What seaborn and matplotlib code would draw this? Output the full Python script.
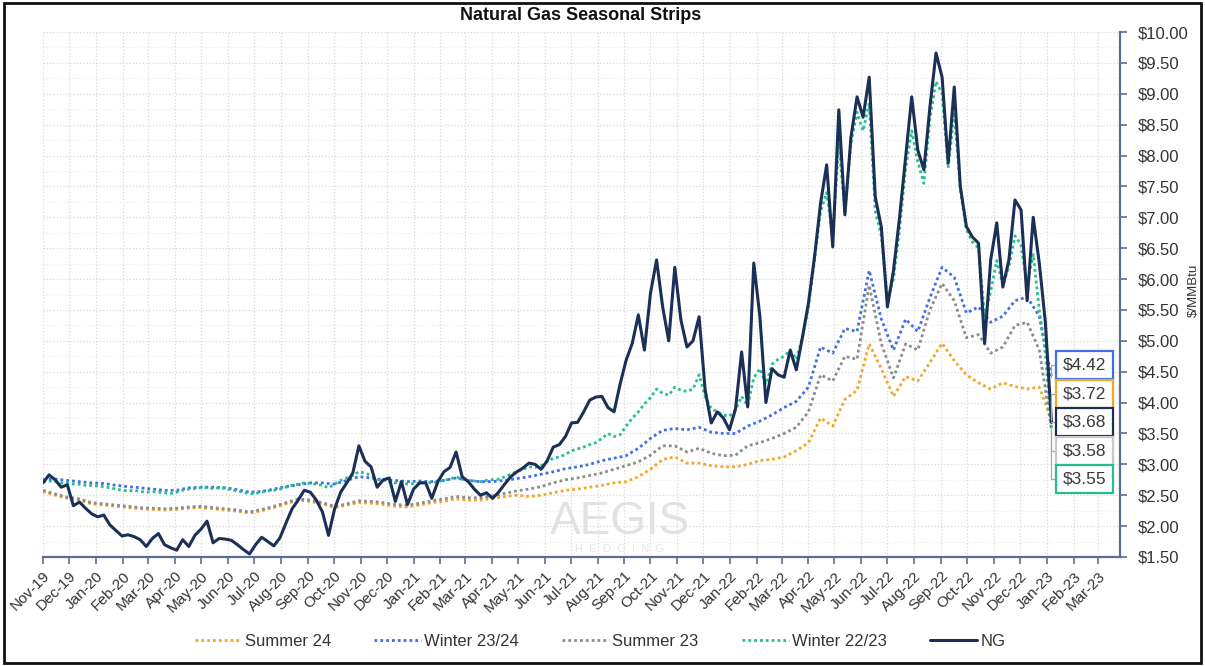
import numpy as np
import pandas as pd
import matplotlib
matplotlib.use("Agg")
import matplotlib.pyplot as plt
import matplotlib.dates as mdates
import matplotlib.ticker as mticker
from matplotlib.patches import Rectangle, Polygon
from matplotlib.lines import Line2D
import seaborn as sns

# Henry Hub front-month settle (weekly), $/MMBtu
ng = [
    2.70, 2.83, 2.75, 2.63, 2.67, 2.33, 2.39, 2.29, 2.20, 2.15,
    2.18, 2.02, 1.93, 1.84, 1.86, 1.83, 1.78, 1.67, 1.80, 1.88,
    1.70, 1.65, 1.61, 1.78, 1.67, 1.85, 1.95, 2.08, 1.73, 1.80,
    1.79, 1.77, 1.70, 1.62, 1.55, 1.70, 1.82, 1.75, 1.68, 1.81,
    2.05, 2.28, 2.42, 2.58, 2.55, 2.42, 2.23, 1.85, 2.28, 2.55,
    2.70, 2.86, 3.30, 3.05, 2.96, 2.63, 2.75, 2.78, 2.40, 2.72,
    2.35, 2.60, 2.70, 2.70, 2.45, 2.72, 2.88, 2.95, 3.20, 2.80,
    2.72, 2.60, 2.50, 2.54, 2.45, 2.55, 2.68, 2.80, 2.88, 2.94,
    3.02, 3.00, 2.92, 3.06, 3.28, 3.32, 3.45, 3.67, 3.68, 3.85,
    4.04, 4.09, 4.10, 3.92, 3.85, 4.30, 4.69, 4.96, 5.42, 4.85,
    5.77, 6.31, 5.55, 5.00, 6.19, 5.34, 4.90, 5.00, 5.39, 4.20,
    3.67, 3.85, 3.75, 3.56, 3.90, 4.82, 3.93, 6.26, 5.40, 4.00,
    4.55, 4.45, 4.41, 4.85, 4.53, 5.05, 5.61, 6.36, 7.23, 7.85,
    6.52, 8.74, 7.04, 8.30, 8.95, 8.62, 9.27, 7.33, 6.84, 5.55,
    6.14, 7.00, 7.98, 8.95, 8.09, 7.77, 8.79, 9.66, 9.27, 7.88,
    9.11, 7.50, 6.85, 6.68, 6.58, 4.96, 6.31, 6.91, 5.87, 6.31,
    7.28, 7.12, 5.65, 7.00, 6.26, 5.30, 3.68,
]

# Winter 22/23 strip (weekly)
winter_22_23 = [
    2.72, 2.73, 2.72, 2.70, 2.70, 2.68, 2.68, 2.66, 2.66, 2.65, 2.64,
    2.62, 2.60, 2.58, 2.57, 2.58, 2.56, 2.55, 2.56, 2.55, 2.54,
    2.53, 2.55, 2.58, 2.60, 2.61, 2.62, 2.62, 2.61, 2.62, 2.61,
    2.59, 2.57, 2.55, 2.52, 2.53, 2.55, 2.57, 2.58, 2.60, 2.63,
    2.66, 2.68, 2.70, 2.69, 2.68, 2.66, 2.62, 2.68, 2.74, 2.78,
    2.82, 2.88, 2.86, 2.82, 2.76, 2.74, 2.72, 2.70, 2.72, 2.68,
    2.69, 2.70, 2.71, 2.70, 2.72, 2.74, 2.76, 2.80, 2.76, 2.74,
    2.73, 2.72, 2.74, 2.75, 2.76, 2.80, 2.84, 2.88, 2.92, 2.96,
    2.95, 2.98, 3.04, 3.10, 3.12, 3.16, 3.22, 3.25, 3.28, 3.32,
    3.35, 3.42, 3.50, 3.45, 3.48, 3.62, 3.75, 3.85, 3.98, 4.08,
    4.22, 4.15, 4.12, 4.25, 4.20, 4.18, 4.22, 4.45, 4.10, 3.90,
    3.85, 3.80, 3.78, 3.88, 4.10, 3.95, 4.40, 4.55, 4.30, 4.62,
    4.70, 4.75, 4.85, 4.70, 5.05, 5.55, 6.30, 7.10, 7.40, 6.70,
    8.20, 7.10, 8.20, 8.70, 8.40, 8.85, 7.10, 6.70, 5.65, 6.00,
    6.80, 7.80, 8.40, 7.90, 7.55, 8.60, 9.20, 9.00, 7.80, 8.70,
    7.45, 6.80, 6.60, 6.50, 5.40, 5.80, 6.30, 5.90, 6.20, 6.70,
    6.55, 5.90, 6.40, 5.50, 4.80, 3.55,
]

# Winter 23/24, Summer 23 and Summer 24 strips (bi-weekly)
winter_23_24 = [
    2.75, 2.76, 2.74, 2.72, 2.70, 2.69, 2.66, 2.64, 2.62, 2.60,
    2.58, 2.58, 2.62, 2.63, 2.63, 2.62, 2.59, 2.55, 2.56, 2.60,
    2.64, 2.67, 2.70, 2.70, 2.68, 2.74, 2.80, 2.78, 2.75, 2.74,
    2.72, 2.73, 2.72, 2.74, 2.78, 2.74, 2.72, 2.72, 2.74, 2.77,
    2.80, 2.84, 2.88, 2.93, 2.96, 3.00, 3.06, 3.10, 3.14, 3.26,
    3.42, 3.55, 3.58, 3.56, 3.60, 3.52, 3.50, 3.50, 3.62, 3.70,
    3.80, 3.92, 4.02, 4.25, 4.90, 4.80, 5.20, 5.15, 6.14, 5.35,
    4.85, 5.35, 5.15, 5.70, 6.19, 6.03, 5.45, 5.55, 5.30, 5.40,
    5.65, 5.71, 5.40, 4.42,
]

summer_23 = [
    2.58, 2.52, 2.47, 2.44, 2.38, 2.36, 2.34, 2.32, 2.30, 2.29,
    2.28, 2.29, 2.31, 2.32, 2.30, 2.28, 2.26, 2.23, 2.27, 2.32,
    2.38, 2.44, 2.42, 2.38, 2.32, 2.36, 2.41, 2.40, 2.38, 2.35,
    2.34, 2.37, 2.41, 2.44, 2.48, 2.46, 2.46, 2.49, 2.53, 2.57,
    2.60, 2.64, 2.70, 2.75, 2.78, 2.82, 2.86, 2.92, 2.98, 3.04,
    3.15, 3.30, 3.30, 3.20, 3.26, 3.18, 3.14, 3.15, 3.30, 3.35,
    3.42, 3.50, 3.60, 3.85, 4.45, 4.35, 4.75, 4.70, 5.90, 4.95,
    4.40, 4.95, 4.85, 5.50, 5.93, 5.65, 5.05, 5.10, 4.80, 4.90,
    5.25, 5.30, 4.85, 3.58,
]

summer_24 = [
    2.56, 2.50, 2.45, 2.42, 2.36, 2.34, 2.32, 2.30, 2.28, 2.27,
    2.26, 2.27, 2.29, 2.30, 2.28, 2.26, 2.24, 2.21, 2.25, 2.30,
    2.36, 2.42, 2.40, 2.36, 2.30, 2.34, 2.38, 2.37, 2.35, 2.32,
    2.31, 2.34, 2.38, 2.40, 2.44, 2.42, 2.42, 2.45, 2.48, 2.50,
    2.48, 2.50, 2.54, 2.58, 2.60, 2.63, 2.66, 2.70, 2.72, 2.80,
    2.92, 3.08, 3.12, 3.02, 3.02, 2.98, 2.96, 2.96, 3.00, 3.06,
    3.08, 3.12, 3.22, 3.35, 3.75, 3.62, 4.05, 4.20, 4.95, 4.55,
    4.10, 4.42, 4.35, 4.65, 4.96, 4.68, 4.45, 4.32, 4.22, 4.32,
    4.26, 4.22, 4.25, 3.72,
]

weekly = pd.date_range("2019-11-01", periods=len(ng), freq="7D")
biweekly = pd.date_range("2019-11-01", periods=len(summer_24), freq="14D")

COLORS = {
    "Summer 24": "#f4a62a",
    "Winter 23/24": "#3f6fe6",
    "Summer 23": "#8c8c8c",
    "Winter 22/23": "#23c08e",
    "NG": "#1c2f57",
}
DOTS = (0, (1.0, 1.1))

sns.set_theme(style="white")
plt.rcParams["font.family"] = ["Liberation Sans", "DejaVu Sans"]

fig = plt.figure(figsize=(12.05, 6.66), dpi=100)
ax = fig.add_axes([43 / 1205, 1 - 557 / 666, (1120 - 43) / 1205, (557 - 32) / 666])

strips = [
    ("Summer 24", biweekly, summer_24),
    ("Winter 23/24", biweekly, winter_23_24),
    ("Summer 23", biweekly, summer_23),
    ("Winter 22/23", weekly, winter_22_23),
]
for name, dates, vals in strips:
    sns.lineplot(x=dates, y=vals, ax=ax, color=COLORS[name], linewidth=2.0,
                 linestyle=DOTS, legend=False)
sns.lineplot(x=weekly, y=ng, ax=ax, color=COLORS["NG"], linewidth=2.2,
             legend=False, zorder=5)

# axes limits and ticks
ax.set_xlim(pd.Timestamp("2019-11-01"), pd.Timestamp("2023-03-26"))
ax.set_ylim(1.5, 10.0)
ax.xaxis.set_major_locator(mdates.MonthLocator())
ax.xaxis.set_major_formatter(mdates.DateFormatter("%b-%y"))
ax.yaxis.set_major_locator(mticker.MultipleLocator(0.5))
ax.yaxis.set_minor_locator(mticker.MultipleLocator(0.25))
ax.yaxis.set_major_formatter(mticker.FuncFormatter(lambda v, p: f"${v:.2f}"))
ax.yaxis.tick_right()
ax.set_xlabel("")
ax.set_ylabel("")

spine_color = "#5a6d96"
for side in ("left", "top"):
    ax.spines[side].set_visible(False)
for side in ("bottom", "right"):
    ax.spines[side].set_visible(True)
    ax.spines[side].set_color(spine_color)
    ax.spines[side].set_linewidth(1.6)

ax.tick_params(axis="x", which="major", length=5, width=1.2, color=spine_color,
               labelsize=11, labelcolor="#333333", bottom=True, direction="out")
ax.tick_params(axis="y", which="major", length=5, width=1.2, color=spine_color,
               labelsize=12, labelcolor="#333333", right=True, left=False,
               direction="out", pad=8)
ax.tick_params(axis="y", which="minor", length=0)
for lbl in ax.get_xticklabels():
    lbl.set_rotation(45)
    lbl.set_ha("right")
    lbl.set_rotation_mode("anchor")

ax.grid(True, which="major", linestyle=":", color="#d8d8d8", linewidth=0.9)
ax.grid(True, which="minor", axis="y", linestyle=":", color="#ececec", linewidth=0.8)
ax.set_axisbelow(True)

# unit label beside the right-hand price axis
fig.text(1194 / 1205, 1 - 290 / 666, "$/MMBtu", rotation=90, fontsize=9.5,
         color="#333333", ha="center", va="center")

# boxed closing values with leader lines
end_date = weekly[-1]
box_x = pd.Timestamp("2023-02-13")
end_labels = [
    (winter_23_24[-1], 4.61, COLORS["Winter 23/24"]),
    (summer_24[-1], 4.14, COLORS["Summer 24"]),
    (ng[-1], 3.69, COLORS["NG"]),
    (summer_23[-1], 3.22, "#c8c8c8"),
    (winter_22_23[-1], 2.76, COLORS["Winter 22/23"]),
]
for val, ypos, col in end_labels:
    ax.annotate(f"${val:.2f}", xy=(end_date, val), xytext=(box_x, ypos),
                textcoords="data", ha="center", va="center", fontsize=12.5,
                color="#3a3a3a", zorder=8,
                bbox=dict(boxstyle="square,pad=0.38", fc="white", ec=col, lw=1.6),
                arrowprops=dict(arrowstyle="-", color="#a8a8a8", lw=0.9,
                                shrinkA=0, shrinkB=0,
                                connectionstyle="angle,angleA=0,angleB=90,rad=0"))

# watermark
fig.text(620 / 1205, 1 - 522 / 666, "AEGIS", fontsize=33, color="#dfe3e6",
         ha="center", va="center", zorder=0)
fig.text(620 / 1205, 1 - 549 / 666, "H  E  D  G  I  N  G", fontsize=8,
         color="#e3e6e9", ha="center", va="center", zorder=0)
fig.add_artist(Polygon([(548 / 1205, 1 - 507 / 666), (566 / 1205, 1 - 507 / 666),
                        (553 / 1205, 1 - 530 / 666), (546 / 1205, 1 - 530 / 666),
                        (556 / 1205, 1 - 513 / 666), (546 / 1205, 1 - 513 / 666)],
                       closed=True, transform=fig.transFigure,
                       fc="#bfe6d6", ec="none", alpha=0.8, zorder=0))

# title
fig.text(581 / 1205, 1 - 15 / 666, "Natural Gas Seasonal Strips",
         ha="center", va="center", fontsize=13, weight="bold", color="#111111")

# legend
order = ["Summer 24", "Winter 23/24", "Summer 23", "Winter 22/23", "NG"]
handles = [Line2D([], [], color=COLORS[n], lw=2.0 if n != "NG" else 2.2,
                  linestyle=DOTS if n != "NG" else "-") for n in order]
fig.legend(handles, order, loc="center", bbox_to_anchor=(600 / 1205, 1 - 641 / 666),
           ncol=5, frameon=False, fontsize=12, handlelength=2.8,
           handletextpad=0.2, columnspacing=2.6, labelcolor="#333333")

# outer frame
fig.add_artist(Rectangle((0.003, 0.004), 0.994, 0.992, transform=fig.transFigure,
                         fill=False, ec="#111111", lw=2.0, zorder=10))

fig.savefig("out.png", dpi=100)
